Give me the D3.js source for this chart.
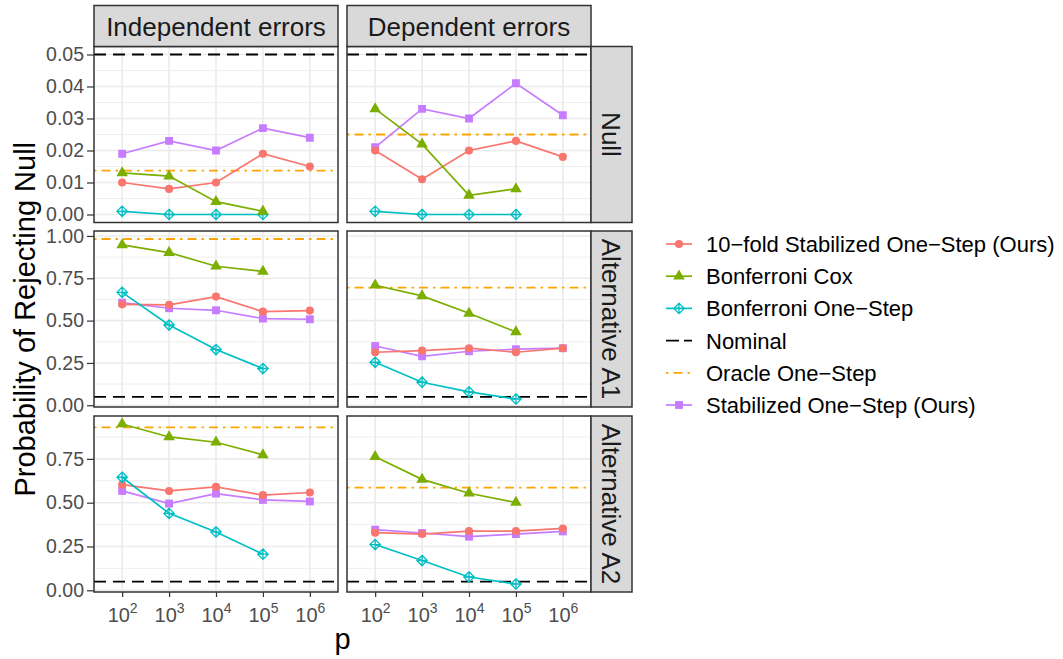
<!DOCTYPE html>
<html>
<head>
<meta charset="utf-8">
<script src="https://cdn.jsdelivr.net/npm/d3@7"></script>
<style>
  body { margin: 0; background: #fff; }
  text { font-family: "Liberation Sans", Arial, sans-serif; }
</style>
</head>
<body>
<div id="viz"></div>
<script>
// x categories (p = 10^k)
var pExp = ["2", "3", "4", "5", "6"];

// method order: 10-fold, Bonferroni Cox, Bonferroni One-Step, Stabilized
var methods = ["10-fold Stabilized One-Step (Ours)", "Bonferroni Cox",
               "Bonferroni One-Step", "Stabilized One-Step (Ours)"];
var colors = ["#F8766D", "#7CAE00", "#00BFC4", "#C77CFF"];
var shapes = ["circle", "triangle", "diamondplus", "square"];

var nullIndep = [
  [0.010, 0.008, 0.010, 0.019, 0.015],
  [0.013, 0.012, 0.004, 0.001, null],
  [0.001, 0.000, 0.000, 0.000, null],
  [0.019, 0.023, 0.020, 0.027, 0.024]];
var nullDep = [
  [0.020, 0.011, 0.020, 0.023, 0.018],
  [0.033, 0.022, 0.006, 0.008, null],
  [0.001, 0.000, 0.000, 0.000, null],
  [0.021, 0.033, 0.030, 0.041, 0.031]];
var a1Indep = [
  [0.596, 0.593, 0.642, 0.553, 0.559],
  [0.947, 0.902, 0.821, 0.791, null],
  [0.667, 0.474, 0.329, 0.217, null],
  [0.606, 0.573, 0.561, 0.512, 0.508]];
var a1Dep = [
  [0.313, 0.323, 0.337, 0.313, 0.337],
  [0.709, 0.646, 0.543, 0.433, null],
  [0.254, 0.136, 0.079, 0.037, null],
  [0.350, 0.289, 0.319, 0.331, 0.337]];
var a2Indep = [
  [0.603, 0.567, 0.590, 0.543, 0.558],
  [0.949, 0.875, 0.845, 0.773, null],
  [0.645, 0.439, 0.333, 0.206, null],
  [0.567, 0.495, 0.552, 0.516, 0.507]];
var a2Dep = [
  [0.329, 0.321, 0.338, 0.338, 0.353],
  [0.762, 0.633, 0.554, 0.501, null],
  [0.261, 0.170, 0.076, 0.036, null],
  [0.346, 0.327, 0.306, 0.321, 0.336]];

var oracleIndep = [0.0137, 0.982, 0.930];
var oracleDep = [0.025, 0.695, 0.586];
var nominal = 0.05;

var colLabels = ["Independent errors", "Dependent errors"];
var rowLabels = ["Null", "Alternative A1", "Alternative A2"];
var nullTicks = [0, 0.01, 0.02, 0.03, 0.04, 0.05];
var altTicks = [0, 0.25, 0.5, 0.75, 1.0];

var panelData = [[nullIndep, nullDep], [a1Indep, a1Dep], [a2Indep, a2Dep]];
var oracle = [oracleIndep, oracleDep];
var rowTicks = [nullTicks, altTicks, altTicks];

// layout
var W = 1063, H = 659;
var colX = [94, 347], panelW = 244;
var rowY = [46.5, 231, 416], panelH = 176;
var stripH = 41;

var svg = d3.select("#viz").append("svg")
  .attr("width", W).attr("height", H);
svg.append("rect").attr("width", W).attr("height", H).attr("fill", "#fff");

var x = d3.scalePoint().domain(pExp).range([0, panelW]).padding(0.6);

function symbolPath(shape) {
  if (shape === "circle") return d3.symbol(d3.symbolCircle, 52)();
  if (shape === "square") return d3.symbol(d3.symbolSquare, 62)();
  if (shape === "triangle") return d3.symbol(d3.symbolTriangle, 58)();
  // open diamond with a plus inside
  var r = 5.2;
  return "M0," + (-r) + "L" + r + ",0L0," + r + "L" + (-r) + ",0Z" +
         "M0," + (-r) + "L0," + r + "M" + (-r) + ",0L" + r + ",0";
}
function styleSymbol(sel, i) {
  if (shapes[i] === "diamondplus") {
    sel.attr("fill", "none").attr("stroke", colors[i]).attr("stroke-width", 1.3);
  } else {
    sel.attr("fill", colors[i]).attr("stroke", "none");
  }
}

var drawOrder = [3, 0, 2, 1];

rowY.forEach(function(py, r) {
  // y domain from all values in the row, expanded 5%
  var vals = [nominal, oracle[0][r], oracle[1][r]];
  panelData[r].forEach(function(col) {
    col.forEach(function(s) { s.forEach(function(v) { if (v !== null) vals.push(v); }); });
  });
  var lo = d3.min(vals), hi = d3.max(vals), pad = (hi - lo) * 0.05;
  var y = d3.scaleLinear().domain([lo - pad, hi + pad]).range([panelH, 0]);
  var ticks = rowTicks[r].filter(function(t) { return t >= lo - pad && t <= hi + pad; });
  var step = rowTicks[r][1] - rowTicks[r][0];
  var minor = [];
  rowTicks[r].forEach(function(t) { minor.push(t + step / 2); });
  minor = minor.filter(function(t) { return t >= lo - pad && t <= hi + pad; });

  colX.forEach(function(px, c) {
    var g = svg.append("g").attr("transform", "translate(" + px + "," + py + ")");
    var clipId = "clip" + r + c;
    g.append("clipPath").attr("id", clipId).append("rect")
      .attr("width", panelW).attr("height", panelH);

    // grid
    g.selectAll(".minor").data(minor).enter().append("line")
      .attr("x1", 0).attr("x2", panelW)
      .attr("y1", function(d) { return y(d); }).attr("y2", function(d) { return y(d); })
      .attr("stroke", "#EBEBEB").attr("stroke-width", 0.8);
    g.selectAll(".major").data(ticks).enter().append("line")
      .attr("x1", 0).attr("x2", panelW)
      .attr("y1", function(d) { return y(d); }).attr("y2", function(d) { return y(d); })
      .attr("stroke", "#EBEBEB").attr("stroke-width", 1.6);
    g.selectAll(".vgrid").data(pExp).enter().append("line")
      .attr("x1", function(d) { return x(d); }).attr("x2", function(d) { return x(d); })
      .attr("y1", 0).attr("y2", panelH)
      .attr("stroke", "#EBEBEB").attr("stroke-width", 1.6);

    var inner = g.append("g").attr("clip-path", "url(#" + clipId + ")");

    // reference lines
    inner.append("line").attr("x1", 0).attr("x2", panelW)
      .attr("y1", y(nominal)).attr("y2", y(nominal))
      .attr("stroke", "#000").attr("stroke-width", 1.8)
      .attr("stroke-dasharray", "12,7");
    inner.append("line").attr("x1", 0).attr("x2", panelW)
      .attr("y1", y(oracle[c][r])).attr("y2", y(oracle[c][r]))
      .attr("stroke", "#FFA500").attr("stroke-width", 1.8)
      .attr("stroke-dasharray", "2.5,5,9,5");

    var series = panelData[r][c];
    var line = d3.line()
      .defined(function(d) { return d !== null; })
      .x(function(d, i) { return x(pExp[i]); })
      .y(function(d) { return y(d); });

    drawOrder.forEach(function(m) {
      inner.append("path").datum(series[m])
        .attr("fill", "none").attr("stroke", colors[m])
        .attr("stroke-width", 1.7).attr("d", line);
    });
    drawOrder.forEach(function(m) {
      series[m].forEach(function(v, i) {
        if (v === null) return;
        var p = inner.append("path").attr("d", symbolPath(shapes[m]))
          .attr("transform", "translate(" + x(pExp[i]) + "," + y(v) + ")");
        styleSymbol(p, m);
      });
    });

    // border
    g.append("rect").attr("width", panelW).attr("height", panelH)
      .attr("fill", "none").attr("stroke", "#333").attr("stroke-width", 1.5);

    // y axis on first column
    if (c === 0) {
      var ax = g.append("g")
        .call(d3.axisLeft(y).tickValues(ticks).tickSize(7).tickPadding(3)
              .tickFormat(d3.format(".2f")));
      ax.select(".domain").remove();
      ax.selectAll("line").attr("stroke", "#333").attr("stroke-width", 1.2);
      ax.selectAll("text").attr("fill", "#4D4D4D").style("font-size", "19.5px")
        .style("font-family", "Liberation Sans, Arial, sans-serif");
    }

    // x axis on bottom row
    if (r === rowY.length - 1) {
      var bx = g.append("g").attr("transform", "translate(0," + panelH + ")")
        .call(d3.axisBottom(x).tickSize(5).tickFormat(""));
      bx.select(".domain").remove();
      bx.selectAll("line").attr("stroke", "#333").attr("stroke-width", 1.2);
      bx.selectAll(".tick").each(function(d) {
        var t = d3.select(this).append("text")
          .attr("y", 30).attr("text-anchor", "middle").attr("fill", "#4D4D4D")
          .style("font-size", "20px");
        t.append("tspan").text("10");
        t.append("tspan").attr("dy", -9).style("font-size", "14px").text(d);
      });
    }

    // top strips
    if (r === 0) {
      svg.append("rect").attr("x", px).attr("y", py - stripH)
        .attr("width", panelW).attr("height", stripH)
        .attr("fill", "#D9D9D9").attr("stroke", "#333").attr("stroke-width", 1.5);
      svg.append("text").attr("x", px + panelW / 2).attr("y", py - stripH / 2 + 9.5)
        .attr("text-anchor", "middle").attr("fill", "#1A1A1A")
        .style("font-size", "26px").text(colLabels[c]);
    }
  });

  // right strip
  var sx = colX[1] + panelW;
  svg.append("rect").attr("x", sx).attr("y", py)
    .attr("width", stripH).attr("height", panelH)
    .attr("fill", "#D9D9D9").attr("stroke", "#333").attr("stroke-width", 1.5);
  svg.append("text")
    .attr("transform", "translate(" + (sx + stripH / 2 - 9.5) + "," + (py + panelH / 2) + ") rotate(90)")
    .attr("text-anchor", "middle").attr("fill", "#1A1A1A")
    .style("font-size", "26px").text(rowLabels[r]);
});

// axis titles
svg.append("text")
  .attr("transform", "translate(35," + ((rowY[0] + rowY[2] + panelH) / 2) + ") rotate(-90)")
  .attr("text-anchor", "middle").attr("fill", "#000")
  .style("font-size", "29px").text("Probability of Rejecting Null");
svg.append("text")
  .attr("x", (colX[0] + colX[1] + panelW) / 2).attr("y", 649)
  .attr("text-anchor", "middle").attr("fill", "#000")
  .style("font-size", "29px").text("p");

// legend
var legendItems = [
  {label: methods[0], m: 0},
  {label: methods[1], m: 1},
  {label: methods[2], m: 2},
  {label: "Nominal", ref: "nominal"},
  {label: "Oracle One\u2212Step", ref: "oracle"},
  {label: methods[3], m: 3}];
var lg = svg.append("g").attr("transform", "translate(666,244)");
legendItems.forEach(function(d, i) {
  var gi = lg.append("g").attr("transform", "translate(0," + (i * 32.2) + ")");
  if (d.ref === "nominal") {
    gi.append("line").attr("x1", 0).attr("x2", 26)
      .attr("stroke", "#000").attr("stroke-width", 1.8).attr("stroke-dasharray", "13,5");
  } else if (d.ref === "oracle") {
    gi.append("line").attr("x1", 0).attr("x2", 26)
      .attr("stroke", "#FFA500").attr("stroke-width", 1.8).attr("stroke-dasharray", "2.5,5,9,5");
  } else {
    gi.append("line").attr("x1", 0).attr("x2", 26)
      .attr("stroke", colors[d.m]).attr("stroke-width", 1.7);
    var p = gi.append("path").attr("d", symbolPath(shapes[d.m]))
      .attr("transform", "translate(13,0)");
    styleSymbol(p, d.m);
  }
  gi.append("text").attr("x", 40).attr("y", 8)
    .attr("fill", "#000").style("font-size", "22px")
    .text(d.label.replace(/-/g, "\u2212"));
});
</script>
</body>
</html>
